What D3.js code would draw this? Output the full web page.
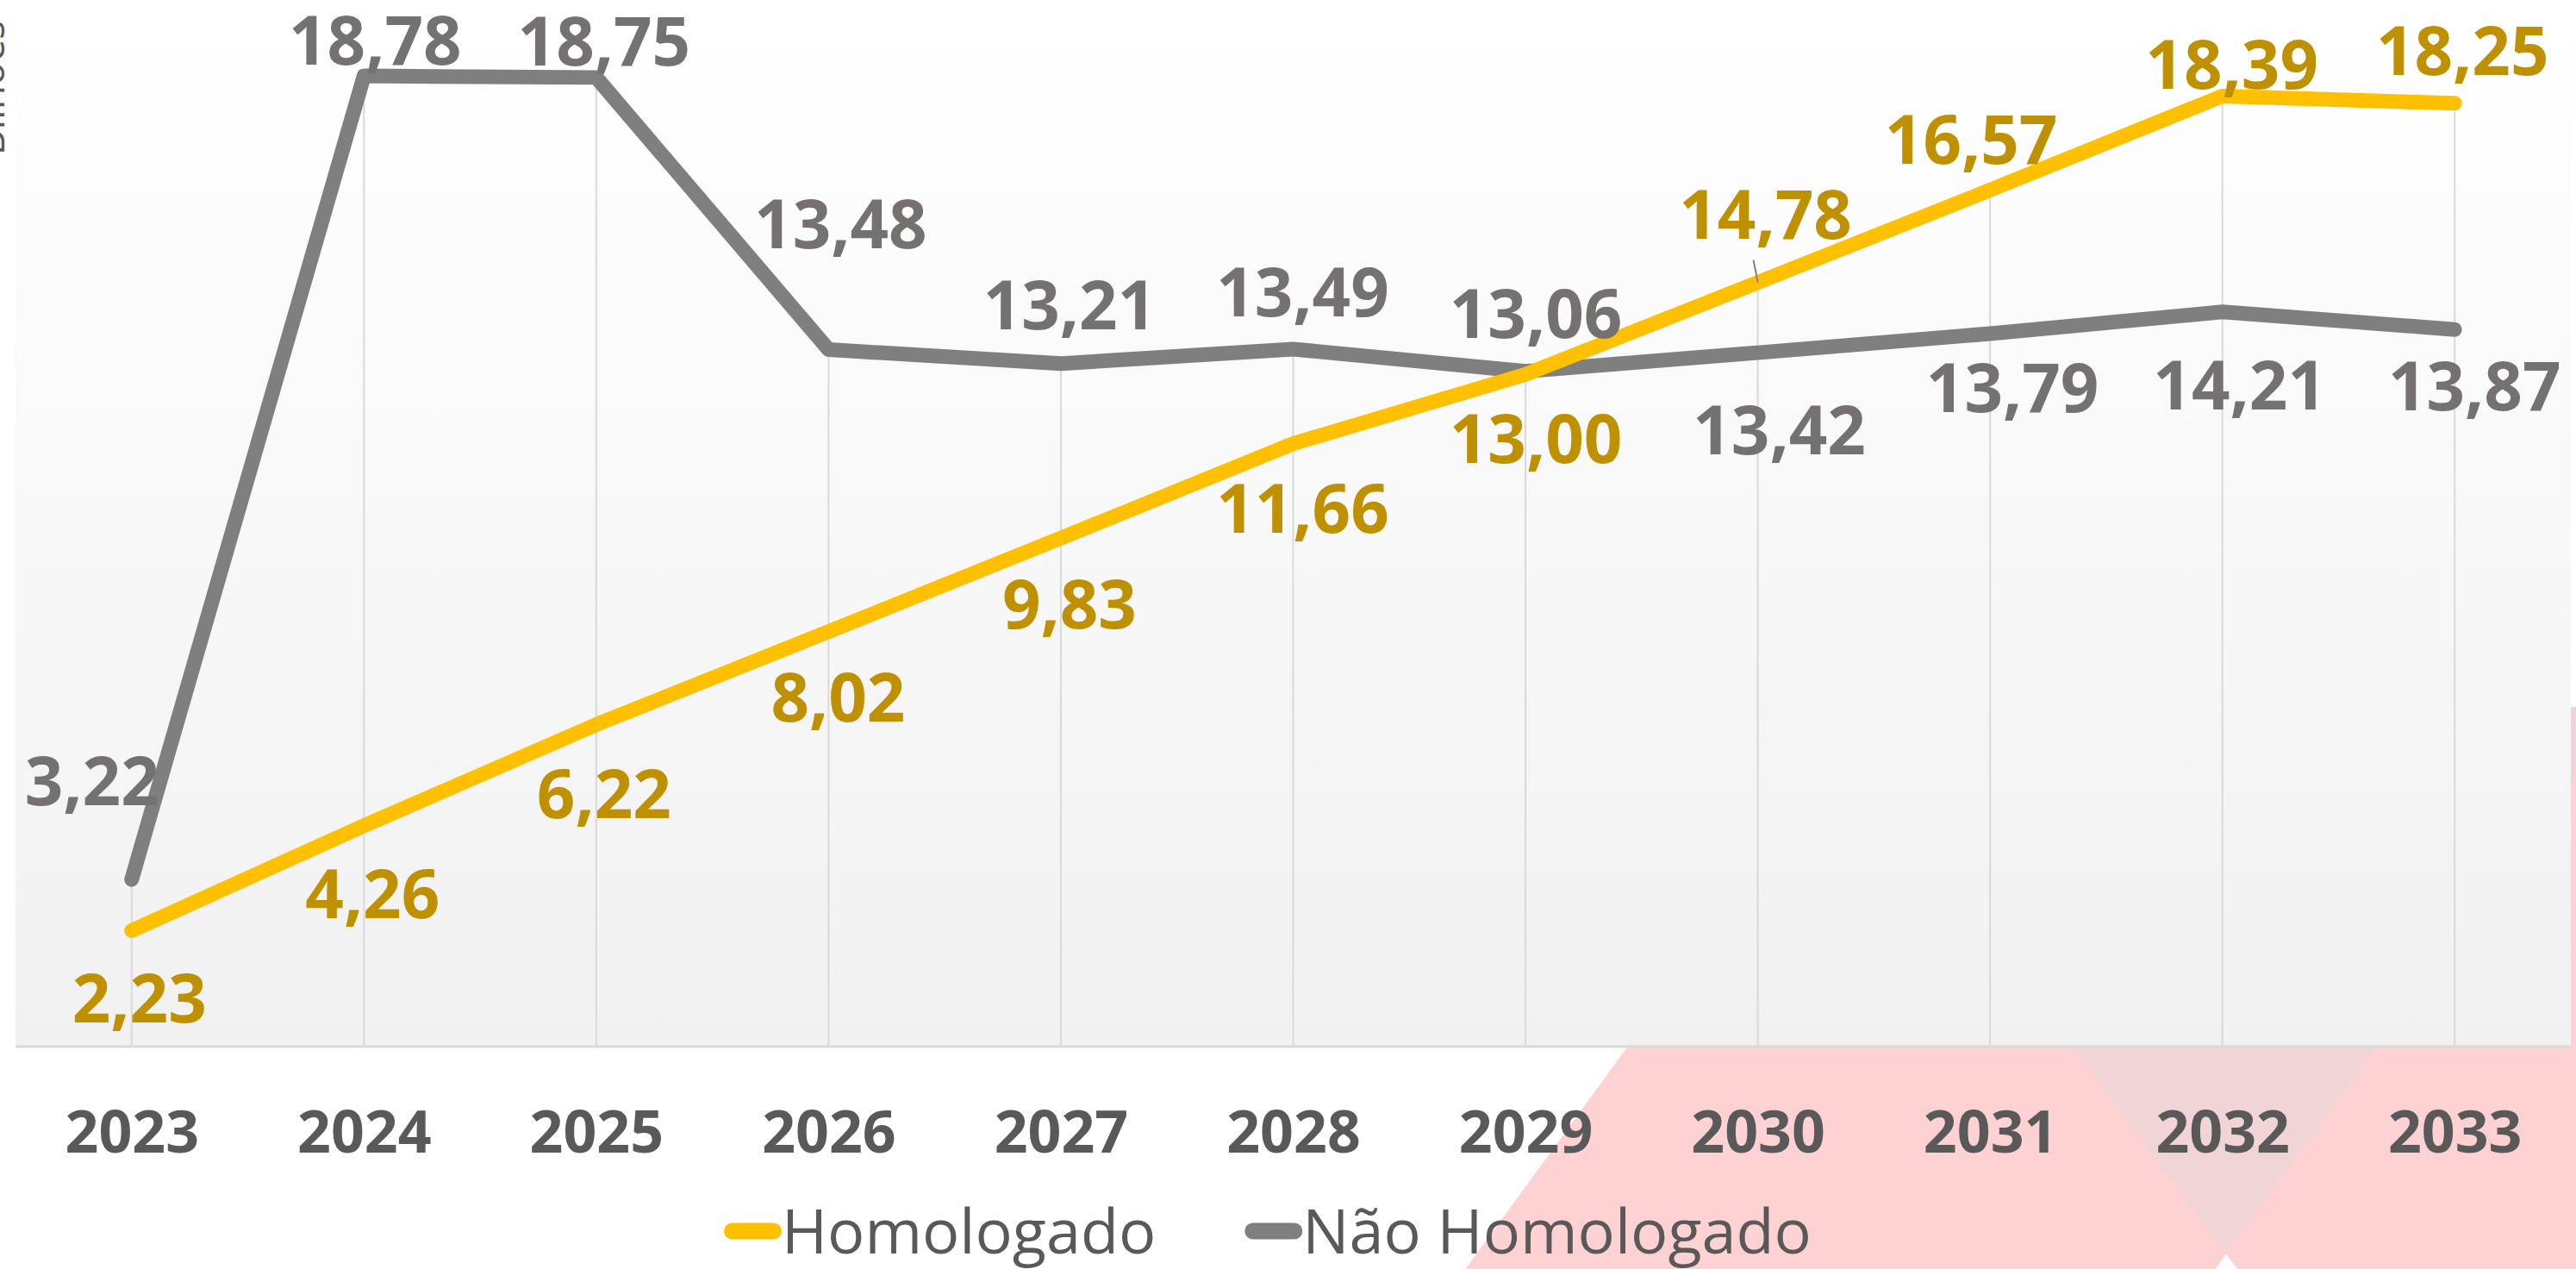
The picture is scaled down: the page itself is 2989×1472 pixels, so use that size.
<!DOCTYPE html>
<html>
<head>
<meta charset="utf-8">
<script src="https://cdn.jsdelivr.net/npm/d3@7"></script>
<style>
  body { margin: 0; background: #fff; }
  svg { display: block; }
</style>
</head>
<body>
<svg id="chart"></svg>
<script>
// data
var years = ['2023', '2024', '2025', '2026', '2027', '2028', '2029', '2030', '2031', '2032', '2033'];
var homologado = [2.23, 4.26, 6.22, 8.02, 9.83, 11.66, 13.00, 14.78, 16.57, 18.39, 18.25];
var naoHomologado = [3.22, 18.78, 18.75, 13.48, 13.21, 13.49, 13.06, 13.42, 13.79, 14.21, 13.87];
var seriesNames = ['Homologado', 'Não Homologado'];
var yTitle = 'Bilhões';

// hand placed data label nudges (px from the point), like the original
var homNudge = [[9, 79], [10, 79], [9, 81], [11, 77], [10, 77], [11, 76], [12, 75], [9, -79], [-22, -58], [11, -36], [9, -61]];
var naoNudge = [[-46, -114], [13, -41], [9, -42], [14, -145], [10, -68], [11, -66], [12, -67], [25, 90], [26, 63], [20, 85], [23, 66]];

var W = 2989, H = 1472;
var plot = { left: 18, right: 2983, top: 15, bottom: 1213 };

var svg = d3.select('#chart')
  .attr('width', W)
  .attr('height', H);

var defs = svg.append('defs');
var grad = defs.append('linearGradient')
  .attr('id', 'bg')
  .attr('x1', 0).attr('y1', 0)
  .attr('x2', 0).attr('y2', 1);
grad.append('stop').attr('offset', '0%').attr('stop-color', '#ffffff');
grad.append('stop').attr('offset', '100%').attr('stop-color', '#f1f1f1');

// pink decoration behind the chart (mostly hidden by the plot area)
var deco = svg.append('g');
deco.append('polygon')
  .attr('points', '1680,1500 2176,820 3046,820 2550,1500')
  .style('fill', '#fed1d2');
deco.append('polygon')
  .attr('points', '2109,820 3100,820 3100,1500 2617,1500')
  .style('fill', '#fed1d2');
deco.append('polygon')
  .attr('points', '2109,820 3046,820 2583,1454')
  .style('fill', '#f1d5d6');

// plot area
svg.append('rect')
  .attr('x', plot.left)
  .attr('y', 0)
  .attr('width', plot.right - plot.left)
  .attr('height', plot.bottom)
  .style('fill', 'url(#bg)');

var x = d3.scalePoint()
  .domain(years)
  .range([plot.left, plot.right])
  .padding(0.5);

var y = d3.scaleLinear()
  .domain([0, 20])
  .range([plot.bottom, plot.top]);

// drop lines
svg.append('g')
  .selectAll('line')
  .data(years)
  .enter()
  .append('line')
    .attr('x1', d => x(d))
    .attr('x2', d => x(d))
    .attr('y1', (d, i) => y(Math.max(homologado[i], naoHomologado[i])))
    .attr('y2', y(0))
    .style('stroke', '#d9d9d9')
    .style('stroke-width', 2);

// x axis
var xAxis = d3.axisBottom(x)
  .tickSize(0)
  .tickPadding(75);

var gx = svg.append('g')
  .attr('transform', 'translate(0,' + (plot.bottom + 1) + ')')
  .call(xAxis);
gx.select('.domain')
  .attr('d', 'M' + plot.left + ',0H' + plot.right)
  .style('stroke', '#d9d9d9')
  .style('stroke-width', 3);
gx.selectAll('text')
  .style('font-family', '"Open Sans", sans-serif')
  .style('font-weight', 700)
  .style('font-size', '68px')
  .style('fill', '#595959');

// y title, pushed mostly off the left edge like the original
svg.append('text')
  .attr('transform', 'translate(5,102) rotate(-90)')
  .attr('text-anchor', 'middle')
  .style('font-family', '"Open Sans", sans-serif')
  .style('font-size', '46px')
  .style('fill', '#595959')
  .text(yTitle);

var series = [
  { name: seriesNames[1], values: naoHomologado, color: '#7f7f7f', labelColor: '#767171', nudge: naoNudge },
  { name: seriesNames[0], values: homologado, color: '#ffc000', labelColor: '#bf9000', nudge: homNudge }
];

var line = d3.line()
  .x((d, i) => x(years[i]))
  .y(d => y(d));

series.forEach(function(s) {
  svg.append('path')
    .datum(s.values)
    .attr('d', line)
    .style('fill', 'none')
    .style('stroke', s.color)
    .style('stroke-width', 17)
    .style('stroke-linecap', 'round')
    .style('stroke-linejoin', 'round');
});

// small leader line under the 2030 Homologado label
svg.append('line')
  .attr('x1', x('2030') - 5)
  .attr('y1', y(homologado[7]) - 26)
  .attr('x2', x('2030'))
  .attr('y2', y(homologado[7]))
  .style('stroke', '#7f7f7f')
  .style('stroke-width', 2);

// data labels
series.forEach(function(s) {
  svg.append('g')
    .selectAll('text')
    .data(s.values)
    .enter()
    .append('text')
      .attr('x', (d, i) => x(years[i]) + s.nudge[i][0])
      .attr('y', (d, i) => y(d) + s.nudge[i][1])
      .attr('dy', '0.357em')
      .attr('text-anchor', 'middle')
      .style('font-family', '"Open Sans", sans-serif')
      .style('font-weight', 700)
      .style('font-size', '78px')
      .style('fill', s.labelColor)
      .text(d => d.toFixed(2).replace('.', ','));
});

// legend
var legend = svg.append('g');
var lx = 840;
[series[1], series[0]].forEach(function(s) {
  var item = legend.append('g').attr('transform', 'translate(' + lx + ',0)');
  item.append('line')
    .attr('x1', 9.5).attr('x2', 57.5)
    .attr('y1', 1428).attr('y2', 1428)
    .style('stroke', s.color)
    .style('stroke-width', 19)
    .style('stroke-linecap', 'round');
  var t = item.append('text')
    .attr('x', 67)
    .attr('y', 1454)
    .style('font-family', '"Open Sans", sans-serif')
    .style('font-size', '72px')
    .style('fill', '#595959')
    .text(s.name);
  lx += 67 + t.node().getComputedTextLength() + 103;
});
</script>
</body>
</html>
